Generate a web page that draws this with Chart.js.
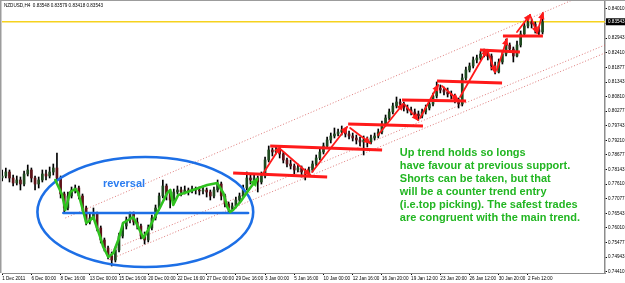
<!DOCTYPE html>
<html>
<head>
<meta charset="utf-8">
<script src="https://cdn.jsdelivr.net/npm/chart.js@4.4.0/dist/chart.umd.min.js"></script>
<style>
  html, body { margin: 0; padding: 0; background: #fff; }
  canvas { display: block; }
</style>
</head>
<body>
<canvas id="nzdChart" width="625" height="283"></canvas>
<script>
// NZDUSD H4, each candle here stands for two H4 bars (slot = candle index)
const opens = [
  0.77836, 0.77910, 0.78056, 0.77836, 0.77654, 0.77764, 0.77617, 0.77983, 0.78129, 0.77836,
  0.77617, 0.77764, 0.77983, 0.77910, 0.78056, 0.78202, 0.77836, 0.77252, 0.76741, 0.77179,
  0.77398, 0.77471, 0.77179, 0.76741, 0.76229, 0.76375, 0.76522, 0.76010, 0.75572, 0.75279,
  0.74987, 0.74841, 0.75207, 0.75717, 0.76083, 0.76302, 0.76522, 0.76229, 0.76083, 0.75717,
  0.75572, 0.76010, 0.76375, 0.76741, 0.77179, 0.77544, 0.77252, 0.77033, 0.77325, 0.77398,
  0.77325, 0.77398, 0.77362, 0.77434, 0.77398, 0.77362, 0.77398, 0.77325, 0.77179, 0.77398,
  0.77617, 0.77179, 0.76887, 0.76741, 0.76814, 0.77033, 0.77179, 0.77471, 0.77836, 0.77764,
  0.77836, 0.77690, 0.77910, 0.78494, 0.78860, 0.78786, 0.78860, 0.78713, 0.78494, 0.78348,
  0.78275, 0.78129, 0.78202, 0.78056, 0.77983, 0.78129, 0.78348, 0.78567, 0.78786, 0.79006,
  0.79225, 0.79371, 0.79444, 0.79517, 0.79590, 0.79444, 0.79371, 0.79298, 0.79225, 0.79152,
  0.79225, 0.79152, 0.79298, 0.79371, 0.79517, 0.79809, 0.80028, 0.80248, 0.80467, 0.80613,
  0.80540, 0.80394, 0.80321, 0.80248, 0.80174, 0.80101, 0.80248, 0.80394, 0.80540, 0.80832,
  0.81124, 0.81051, 0.80978, 0.80905, 0.80832, 0.80686, 0.80540, 0.81490, 0.81782, 0.81928,
  0.82147, 0.82220, 0.82366, 0.82439, 0.82293, 0.81928, 0.81709, 0.82074, 0.82366, 0.82695,
  0.82549, 0.82293, 0.82695, 0.83097, 0.83389, 0.83535, 0.83462, 0.83243, 0.83170
];
const highs = [
  0.78129, 0.78202, 0.78129, 0.77946, 0.77910, 0.77873, 0.78092, 0.78311, 0.78202, 0.77910,
  0.77873, 0.78129, 0.78129, 0.78238, 0.78348, 0.78750, 0.77910, 0.77325, 0.77325, 0.77507,
  0.77581, 0.77544, 0.77252, 0.76814, 0.76522, 0.76741, 0.76595, 0.76083, 0.75644, 0.75352,
  0.75133, 0.75316, 0.75827, 0.76193, 0.76412, 0.76595, 0.76595, 0.76375, 0.76156, 0.75864,
  0.76119, 0.76485, 0.76850, 0.77288, 0.77764, 0.77617, 0.77325, 0.77434, 0.77544, 0.77507,
  0.77544, 0.77471, 0.77544, 0.77507, 0.77507, 0.77544, 0.77471, 0.77398, 0.77507, 0.77764,
  0.77690, 0.77252, 0.76960, 0.76924, 0.77142, 0.77288, 0.77581, 0.78056, 0.77946, 0.77983,
  0.77910, 0.78056, 0.78603, 0.79006, 0.78932, 0.79006, 0.78932, 0.78786, 0.78567, 0.78494,
  0.78348, 0.78348, 0.78275, 0.78165, 0.78238, 0.78458, 0.78677, 0.78896, 0.79115, 0.79334,
  0.79480, 0.79663, 0.79627, 0.79736, 0.79663, 0.79553, 0.79480, 0.79407, 0.79334, 0.79371,
  0.79334, 0.79407, 0.79480, 0.79627, 0.79919, 0.80138, 0.80357, 0.80576, 0.80795, 0.80722,
  0.80613, 0.80503, 0.80430, 0.80357, 0.80284, 0.80357, 0.80503, 0.80650, 0.80942, 0.81344,
  0.81234, 0.81161, 0.81124, 0.81015, 0.80905, 0.80759, 0.81636, 0.81892, 0.82038, 0.82257,
  0.82330, 0.82476, 0.82549, 0.82513, 0.82366, 0.82074, 0.82184, 0.82476, 0.82914, 0.82768,
  0.82622, 0.82841, 0.83207, 0.83498, 0.83755, 0.83644, 0.83535, 0.83352, 0.83828
];
const lows = [
  0.77727, 0.77836, 0.77690, 0.77544, 0.77581, 0.77398, 0.77544, 0.77910, 0.77690, 0.77398,
  0.77471, 0.77690, 0.77764, 0.77836, 0.77946, 0.77727, 0.77106, 0.76595, 0.76668, 0.77106,
  0.77288, 0.77069, 0.76631, 0.76119, 0.76156, 0.76339, 0.75900, 0.75462, 0.75170, 0.74878,
  0.74622, 0.74768, 0.75133, 0.75644, 0.75973, 0.76193, 0.76119, 0.75973, 0.75608, 0.75425,
  0.75499, 0.75937, 0.76302, 0.76668, 0.77106, 0.77033, 0.76741, 0.76924, 0.77252, 0.77179,
  0.77252, 0.77215, 0.77288, 0.77252, 0.77215, 0.77252, 0.77142, 0.77033, 0.77106, 0.77325,
  0.77033, 0.76777, 0.76595, 0.76668, 0.76741, 0.76924, 0.77106, 0.77398, 0.77617, 0.77654,
  0.77325, 0.77617, 0.77836, 0.78421, 0.78640, 0.78713, 0.78567, 0.78385, 0.78238, 0.78165,
  0.77983, 0.78056, 0.77873, 0.77764, 0.77910, 0.78056, 0.78275, 0.78494, 0.78713, 0.78932,
  0.79115, 0.79298, 0.79371, 0.79407, 0.79334, 0.79261, 0.79188, 0.79079, 0.79006, 0.78677,
  0.78969, 0.79079, 0.79225, 0.79298, 0.79444, 0.79736, 0.79955, 0.80174, 0.80394, 0.80430,
  0.80284, 0.80211, 0.80138, 0.80065, 0.79955, 0.80028, 0.80174, 0.80321, 0.80467, 0.80759,
  0.80942, 0.80869, 0.80795, 0.80722, 0.80576, 0.80394, 0.80467, 0.81417, 0.81709, 0.81855,
  0.82038, 0.82147, 0.82257, 0.82147, 0.81782, 0.81636, 0.81673, 0.82001, 0.82293, 0.82439,
  0.82074, 0.82257, 0.82622, 0.83024, 0.83316, 0.83316, 0.83133, 0.83024, 0.83097
];
const closes = [
  0.77910, 0.78056, 0.77836, 0.77654, 0.77764, 0.77617, 0.77983, 0.78129, 0.77836, 0.77617,
  0.77764, 0.77983, 0.77910, 0.78056, 0.78202, 0.77836, 0.77252, 0.76741, 0.77179, 0.77398,
  0.77471, 0.77179, 0.76741, 0.76229, 0.76375, 0.76522, 0.76010, 0.75572, 0.75279, 0.74987,
  0.74841, 0.75207, 0.75717, 0.76083, 0.76302, 0.76522, 0.76229, 0.76083, 0.75717, 0.75572,
  0.76010, 0.76375, 0.76741, 0.77179, 0.77544, 0.77252, 0.77033, 0.77325, 0.77398, 0.77325,
  0.77398, 0.77362, 0.77434, 0.77398, 0.77362, 0.77398, 0.77325, 0.77179, 0.77398, 0.77617,
  0.77179, 0.76887, 0.76741, 0.76814, 0.77033, 0.77179, 0.77471, 0.77836, 0.77764, 0.77836,
  0.77690, 0.77910, 0.78494, 0.78860, 0.78786, 0.78860, 0.78713, 0.78494, 0.78348, 0.78275,
  0.78129, 0.78202, 0.78056, 0.77983, 0.78129, 0.78348, 0.78567, 0.78786, 0.79006, 0.79225,
  0.79371, 0.79444, 0.79517, 0.79590, 0.79444, 0.79371, 0.79298, 0.79225, 0.79152, 0.79225,
  0.79152, 0.79298, 0.79371, 0.79517, 0.79809, 0.80028, 0.80248, 0.80467, 0.80613, 0.80540,
  0.80394, 0.80321, 0.80248, 0.80174, 0.80101, 0.80248, 0.80394, 0.80540, 0.80832, 0.81124,
  0.81051, 0.80978, 0.80905, 0.80832, 0.80686, 0.80540, 0.81490, 0.81782, 0.81928, 0.82147,
  0.82220, 0.82366, 0.82439, 0.82293, 0.81928, 0.81709, 0.82074, 0.82366, 0.82695, 0.82549,
  0.82293, 0.82695, 0.83097, 0.83389, 0.83535, 0.83462, 0.83243, 0.83170, 0.83543
];

const headerOHLC = [0.83548, 0.83579, 0.83418, 0.83543];

// time axis: tick slot -> label
const timeTicks = [0, 8, 16, 24, 32, 40, 48, 56, 64, 72, 80, 88, 96, 104, 112, 120, 128, 136, 144];
const timeLabels = [
  "1 Dec 2011", "6 Dec 00:00", "8 Dec 16:00", "13 Dec 00:00", "15 Dec 16:00", "20 Dec 00:00",
  "22 Dec 16:00", "27 Dec 00:00", "29 Dec 16:00", "3 Jan 00:00", "5 Jan 16:00", "10 Jan 00:00",
  "12 Jan 16:00", "16 Jan 20:00", "19 Jan 12:00", "23 Jan 20:00", "26 Jan 12:00", "30 Jan 20:00",
  "2 Feb 12:00"
];
const priceTicks = [
  0.84010, 0.83477, 0.82943, 0.82410, 0.81877, 0.81343, 0.80810, 0.80277, 0.79743, 0.79210,
  0.78677, 0.78143, 0.77610, 0.77077, 0.76543, 0.76010, 0.75477, 0.74943, 0.74410
];

// drawn objects, in (slot, price)
const channelLines = [
  [17.3, 0.76375, 165.1, 0.84850],
  [29.0, 0.75160, 165.1, 0.82695],
  [29.2, 0.74850, 165.1, 0.82403]
];
const reversalEllipse = [39.2, 0.76594, 29.55, 0.02009]; // cx, cy, rx, ry
const reversalLine = [16.75, 0.76558, 67.35, 0.76558];
const greenPath = [
  [14.55, 0.77763], [16.45, 0.77215], [17.3, 0.76667], [18.65, 0.77325], [20.05, 0.77435],
  [20.85, 0.77289], [21.95, 0.76740], [23.05, 0.76193], [24.15, 0.76302], [24.95, 0.76412],
  [26.85, 0.75681], [27.7, 0.75316], [29.05, 0.74951], [30.45, 0.75097], [31.8, 0.75572],
  [33.15, 0.76193], [34.55, 0.76302], [35.9, 0.76412], [37.25, 0.76046], [38.65, 0.75645],
  [40.0, 0.75937], [41.35, 0.76302], [43.3, 0.76777], [45.2, 0.77289], [46.05, 0.77398],
  [46.85, 0.76850], [48.2, 0.77215], [50.7, 0.77325], [56.15, 0.77581], [58.9, 0.77654],
  [60.55, 0.77289], [61.65, 0.76777], [62.45, 0.76594], [63.25, 0.76667], [65.2, 0.76960],
  [67.9, 0.77471], [69.85, 0.77800]
];
const supportLines = [
  [63.25, 0.78019, 89.0, 0.77873],
  [73.4, 0.79006, 104.05, 0.78859],
  [94.75, 0.79809, 115.25, 0.79736],
  [109.5, 0.80686, 127.05, 0.80649],
  [119.1, 0.81380, 136.9, 0.81307],
  [130.85, 0.82512, 141.8, 0.82439],
  [137.15, 0.83024, 148.1, 0.83024]
];
const swingArrows = [
  [71.2, 0.77946, 76.15, 0.78969],
  [76.15, 0.78896, 84.35, 0.77946],
  [84.9, 0.78056, 94.45, 0.79700],
  [95.3, 0.79663, 100.75, 0.79115],
  [102.95, 0.79407, 109.8, 0.80540],
  [110.35, 0.80503, 113.9, 0.79955],
  [114.45, 0.80028, 119.4, 0.81234],
  [120.45, 0.81197, 124.85, 0.80686],
  [125.4, 0.80795, 132.8, 0.82512],
  [133.05, 0.82439, 135.0, 0.81709],
  [135.5, 0.81782, 138.25, 0.82914],
  [141.0, 0.83170, 144.55, 0.83791],
  [144.55, 0.83791, 146.5, 0.83134],
  [146.5, 0.83134, 148.1, 0.83864]
];
const reversalLabel = [27.6, 0.77490];
const noteAnchor = [108.9, 0.78640];
const noteLines = [
  "Up trend holds so longs",
  "have favour at previous support.",
  "Shorts can be taken, but that",
  "will be a counter trend entry",
  "(i.e.top picking). The safest trades",
  "are congruent with the main trend."
];

const tinyFont = { family: "'Liberation Sans', Arial, sans-serif", size: 4.6 };

function drawArrowHead(ctx, x1, y1, x2, y2, len, half) {
    const ang = Math.atan2(y2 - y1, x2 - x1);
    const c = Math.cos(ang), s = Math.sin(ang);
    ctx.beginPath();
    ctx.moveTo(x2 + c * 1.5, y2 + s * 1.5);
    ctx.lineTo(x2 - c * len - s * half, y2 - s * len + c * half);
    ctx.lineTo(x2 - c * len + s * half, y2 - s * len - c * half);
    ctx.closePath();
    ctx.fill();
}

const drawings = {
    id: "drawings",
    beforeDatasetsDraw(chart) {
        const { ctx, chartArea: a, scales: { x, y } } = chart;
        ctx.save();
        ctx.beginPath();
        ctx.rect(a.left, a.top, a.right - a.left, a.bottom - a.top);
        ctx.clip();

        // bid line
        const by = y.getPixelForValue(closes[closes.length - 1]);
        ctx.strokeStyle = "#f6d21e";
        ctx.lineWidth = 1.5;
        ctx.beginPath();
        ctx.moveTo(a.left, by);
        ctx.lineTo(a.right, by);
        ctx.stroke();

        // channel, dotted
        ctx.strokeStyle = "rgba(214, 90, 90, 0.8)";
        ctx.lineWidth = 1;
        ctx.setLineDash([1, 2]);
        channelLines.forEach(([k1, p1, k2, p2]) => {
            ctx.beginPath();
            ctx.moveTo(x.getPixelForValue(k1), y.getPixelForValue(p1));
            ctx.lineTo(x.getPixelForValue(k2), y.getPixelForValue(p2));
            ctx.stroke();
        });
        ctx.restore();
    },
    afterDatasetsDraw(chart) {
        const { ctx, chartArea: a, scales: { x, y } } = chart;
        ctx.save();
        ctx.beginPath();
        ctx.rect(a.left, a.top, a.right - a.left, a.bottom - a.top);
        ctx.clip();
        ctx.lineCap = "round";
        ctx.lineJoin = "round";

        // reversal zone
        const [cx, cy, rx, ry] = reversalEllipse;
        const ex = x.getPixelForValue(cx), ey = y.getPixelForValue(cy);
        const erx = x.getPixelForValue(cx + rx) - ex;
        const ery = ey - y.getPixelForValue(cy + ry);
        ctx.strokeStyle = "#1d6fe6";
        ctx.lineWidth = 2.6;
        ctx.beginPath();
        ctx.ellipse(ex, ey, erx, ery, 0, 0, Math.PI * 2);
        ctx.stroke();

        ctx.lineWidth = 2.6;
        ctx.beginPath();
        ctx.moveTo(x.getPixelForValue(reversalLine[0]), y.getPixelForValue(reversalLine[1]));
        ctx.lineTo(x.getPixelForValue(reversalLine[2]), y.getPixelForValue(reversalLine[3]));
        ctx.stroke();

        // green swing path
        ctx.strokeStyle = "#2fc21f";
        ctx.fillStyle = "#2fc21f";
        ctx.lineWidth = 2.6;
        ctx.beginPath();
        greenPath.forEach(([k, p], i) => {
            const px = x.getPixelForValue(k), py = y.getPixelForValue(p);
            if (i === 0) ctx.moveTo(px, py); else ctx.lineTo(px, py);
        });
        ctx.stroke();
        const g1 = greenPath[greenPath.length - 2], g2 = greenPath[greenPath.length - 1];
        drawArrowHead(ctx, x.getPixelForValue(g1[0]), y.getPixelForValue(g1[1]),
            x.getPixelForValue(g2[0]), y.getPixelForValue(g2[1]), 7, 4);

        // support levels
        ctx.strokeStyle = "#ff1a1a";
        ctx.fillStyle = "#ff1a1a";
        ctx.lineCap = "butt";
        ctx.lineWidth = 2.8;
        supportLines.forEach(([k1, p1, k2, p2]) => {
            ctx.beginPath();
            ctx.moveTo(x.getPixelForValue(k1), y.getPixelForValue(p1));
            ctx.lineTo(x.getPixelForValue(k2), y.getPixelForValue(p2));
            ctx.stroke();
        });

        // swing arrows
        ctx.lineWidth = 1.8;
        ctx.lineCap = "round";
        swingArrows.forEach(([k1, p1, k2, p2]) => {
            const x1 = x.getPixelForValue(k1), y1 = y.getPixelForValue(p1);
            const x2 = x.getPixelForValue(k2), y2 = y.getPixelForValue(p2);
            ctx.beginPath();
            ctx.moveTo(x1, y1);
            ctx.lineTo(x2, y2);
            ctx.stroke();
            drawArrowHead(ctx, x1, y1, x2, y2, 6, 3.2);
        });

        // texts
        ctx.font = "bold 11px 'Liberation Sans', Arial, sans-serif";
        ctx.textBaseline = "alphabetic";
        ctx.textAlign = "left";
        ctx.fillStyle = "#2a7cf0";
        ctx.fillText("reversal", x.getPixelForValue(reversalLabel[0]), y.getPixelForValue(reversalLabel[1]));

        ctx.fillStyle = "#22b622";
        const nx = x.getPixelForValue(noteAnchor[0]);
        const ny = y.getPixelForValue(noteAnchor[1]);
        noteLines.forEach((t, i) => ctx.fillText(t, nx, ny + i * 13.1));
        ctx.restore();
    },
    afterDraw(chart) {
        const { ctx, chartArea: a, scales: { y } } = chart;
        ctx.save();
        // window frame
        ctx.fillStyle = "#9c9c9c";
        ctx.fillRect(0, 0, chart.width, 1);
        ctx.fillRect(0, 0, 1.5, a.bottom);

        // header
        ctx.fillStyle = "#000";
        ctx.font = "4.6px 'Liberation Sans', Arial, sans-serif";
        ctx.textBaseline = "middle";
        ctx.fillText("NZDUSD,H4  " + headerOHLC.map(v => v.toFixed(5)).join(" "), 4, 6);

        // current price box
        const last = closes[closes.length - 1];
        const py = y.getPixelForValue(last);
        ctx.fillStyle = "#000";
        ctx.fillRect(a.right + 1, py - 3.5, chart.width - a.right - 1, 7);
        ctx.fillStyle = "#fff";
        ctx.fillText(last.toFixed(5), a.right + 3, py + 0.3);
        ctx.restore();
    }
};

const ctx = document.getElementById("nzdChart").getContext("2d");
const bodyColors = closes.map((c, k) => (c >= opens[k] ? "#1f4a1f" : "#5e1218"));

new Chart(ctx, {
    type: "bar",
    data: {
        datasets: [
            {
                label: "body",
                data: closes.map((c, k) => ({ x: k, y: [opens[k], c] })),
                backgroundColor: bodyColors,
                borderWidth: 0,
                barThickness: 2,
                grouped: false
            },
            {
                label: "range",
                data: highs.map((h, k) => ({ x: k, y: [lows[k], h] })),
                backgroundColor: "#000",
                borderWidth: 0,
                barThickness: 1,
                grouped: false
            }
        ]
    },
    options: {
        responsive: false,
        animation: false,
        events: [],
        layout: { padding: { left: 2, top: 1, right: 0, bottom: 0 } },
        plugins: {
            legend: { display: false },
            tooltip: { enabled: false }
        },
        scales: {
            x: {
                type: "linear",
                min: -0.05,
                max: 165.1,
                offset: false,
                afterBuildTicks: s => { s.ticks = timeTicks.map(v => ({ value: v })); },
                afterFit: s => { s.height = 10; s.paddingLeft = 0; s.paddingRight = 0; },
                ticks: {
                    autoSkip: false,
                    maxRotation: 0,
                    minRotation: 0,
                    align: "start",
                    padding: 1,
                    color: "#000",
                    font: tinyFont,
                    callback: (v, i) => timeLabels[i]
                },
                grid: { drawOnChartArea: false, drawTicks: true, tickLength: 2, color: "#000", offset: false },
                border: { display: true, color: "#8c8c8c", width: 1 }
            },
            y: {
                position: "right",
                min: 0.74366,
                max: 0.84302,
                afterBuildTicks: s => { s.ticks = priceTicks.map(v => ({ value: v })); },
                afterFit: s => { s.width = 20; s.paddingTop = 0; s.paddingBottom = 0; },
                ticks: {
                    padding: 1,
                    color: "#000",
                    font: tinyFont,
                    callback: v => v.toFixed(5)
                },
                grid: { drawOnChartArea: false, drawTicks: true, tickLength: 2, color: "#000" },
                border: { display: true, color: "#8c8c8c", width: 1.5 }
            }
        }
    },
    plugins: [drawings]
});
</script>
</body>
</html>
